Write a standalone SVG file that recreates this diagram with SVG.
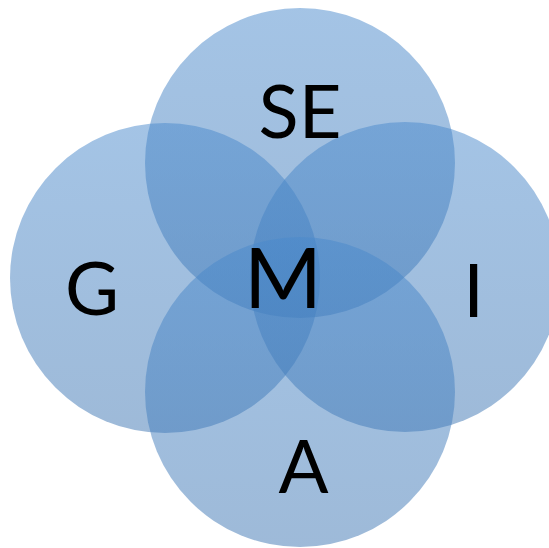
<svg xmlns="http://www.w3.org/2000/svg" width="549" height="548" viewBox="0 0 549 548">
  <defs>
    <linearGradient id="fillGrad" x1="0" y1="0" x2="0" y2="1">
      <stop offset="0" stop-color="#4989cc"/>
      <stop offset="1" stop-color="#3d75b2"/>
    </linearGradient>
    <style>
      .circle { fill: url(#fillGrad); fill-opacity: 0.5; }
      .label { font-family: Lato, "Liberation Sans", Arial, sans-serif; fill: #000000; text-anchor: middle; }
      .outer { font-size: 74px; }
      .center { font-size: 84px; }
    </style>
  </defs>
  <rect x="0" y="0" width="549" height="548" fill="#ffffff"/>
  <g id="circle-SE">
    <circle class="circle" cx="300" cy="163" r="155"/>
  </g>
  <g id="circle-G">
    <circle class="circle" cx="165" cy="278" r="155"/>
  </g>
  <g id="circle-I">
    <circle class="circle" cx="405" cy="277" r="155"/>
  </g>
  <g id="circle-A">
    <circle class="circle" cx="300" cy="392" r="155"/>
  </g>
  <g id="labels">
    <text class="label outer" x="300" y="138">SE</text>
    <text class="label outer" x="92" y="315">G</text>
    <text class="label outer" x="473.5" y="317">I</text>
    <text class="label outer" x="303.5" y="493">A</text>
    <text class="label center" x="283" y="308">M</text>
  </g>
</svg>
